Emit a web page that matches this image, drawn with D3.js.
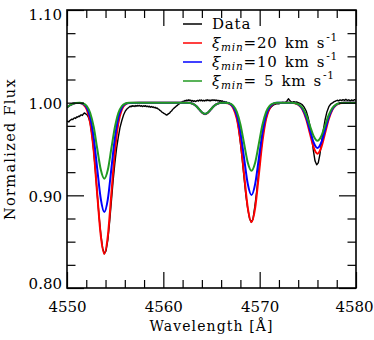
<!DOCTYPE html>
<html>
<head>
<meta charset="utf-8">
<script src="https://cdn.jsdelivr.net/npm/d3@7"></script>
<style>
  html, body { margin: 0; padding: 0; background: #fff; }
  svg { display: block; }
</style>
</head>
<body>
<svg id="chart" width="374" height="340"></svg>
<script>
// model grid (Angstrom) shared by the three synthetic spectra
const modelWave = [
  4550.0, 4550.3, 4550.6, 4550.9,
  4551.32, 4551.68, 4552.05, 4552.41, 4552.78, 4553.14, 4553.51, 4553.87, 4554.24, 4554.60, 4554.97, 4555.33, 4555.70, 4556.06, 4556.43,
  4557.5, 4559.0, 4560.5, 4562.0,
  4562.53, 4562.83, 4563.13, 4563.43, 4563.73, 4564.03, 4564.33, 4564.63, 4564.93, 4565.23, 4565.53, 4565.83, 4566.13,
  4566.49, 4566.87, 4567.25, 4567.63, 4568.01, 4568.39, 4568.77, 4569.15, 4569.53, 4569.91, 4570.29, 4570.67, 4571.05, 4571.43, 4571.81,
  4572.55,
  4573.27, 4573.66, 4574.05, 4574.44, 4574.83, 4575.22, 4575.61, 4576.00, 4576.39, 4576.78, 4577.17, 4577.56, 4577.95, 4578.34, 4578.73,
  4579.4, 4580.0
];
const fluxXi20 = [
  0.9948, 0.9972, 0.9988, 0.9997,
  0.9996, 0.9982, 0.9928, 0.9779, 0.9471, 0.9011, 0.8562, 0.837, 0.8562, 0.9011, 0.9471, 0.9779, 0.9928, 0.9982, 0.9996,
  1.0, 1.0, 1.0, 1.0,
  0.9999, 0.9995, 0.9984, 0.9961, 0.9927, 0.9892, 0.9876, 0.9892, 0.9927, 0.9961, 0.9984, 0.9995, 0.9999,
  0.9997, 0.9986, 0.9943, 0.9825, 0.9581, 0.9218, 0.8862, 0.871, 0.8862, 0.9218, 0.9581, 0.9825, 0.9943, 0.9986, 0.9997,
  1.0,
  0.9999, 0.9994, 0.9976, 0.9926, 0.9821, 0.9666, 0.9515, 0.945, 0.9515, 0.9666, 0.9821, 0.9926, 0.9976, 0.9994, 0.9999,
  1.0, 1.0
];
const fluxXi10 = [
  0.9948, 0.9972, 0.9988, 0.9997,
  0.9997, 0.9987, 0.9948, 0.9840, 0.9617, 0.9284, 0.8959, 0.882, 0.8959, 0.9284, 0.9617, 0.9840, 0.9948, 0.9987, 0.9997,
  1.0, 1.0, 1.0, 1.0,
  0.9999, 0.9995, 0.9984, 0.9961, 0.9927, 0.9893, 0.9878, 0.9893, 0.9927, 0.9961, 0.9984, 0.9995, 0.9999,
  0.9998, 0.9989, 0.9956, 0.9865, 0.9677, 0.9396, 0.9121, 0.9004, 0.9121, 0.9396, 0.9677, 0.9865, 0.9956, 0.9989, 0.9998,
  1.0,
  0.9999, 0.9995, 0.9978, 0.9934, 0.9841, 0.9703, 0.9568, 0.951, 0.9568, 0.9703, 0.9841, 0.9934, 0.9978, 0.9995, 0.9999,
  1.0, 1.0
];
const fluxXi5 = [
  0.9948, 0.9972, 0.9988, 0.9997,
  0.9998, 0.9991, 0.9964, 0.9889, 0.9734, 0.9503, 0.9276, 0.918, 0.9276, 0.9503, 0.9734, 0.9889, 0.9964, 0.9991, 0.9998,
  1.0, 1.0, 1.0, 1.0,
  0.9999, 0.9995, 0.9984, 0.9961, 0.9927, 0.9894, 0.988, 0.9894, 0.9927, 0.9961, 0.9984, 0.9995, 0.9999,
  0.9998, 0.9992, 0.9968, 0.9901, 0.9762, 0.9555, 0.9352, 0.9266, 0.9352, 0.9555, 0.9762, 0.9901, 0.9968, 0.9992, 0.9998,
  1.0,
  0.9999, 0.9995, 0.9982, 0.9945, 0.9867, 0.9751, 0.9638, 0.959, 0.9638, 0.9751, 0.9867, 0.9945, 0.9982, 0.9995, 0.9999,
  1.0, 1.0
];

// observed spectrum [wavelength, normalized flux]
const observed = [
  [4550.0,0.9795],[4550.1,0.9800],[4550.2,0.9792],[4550.3,0.9808],[4550.4,0.9815],[4550.5,0.9822],[4550.6,0.9818],
  [4550.7,0.9831],[4550.8,0.9836],[4550.9,0.9830],[4551.0,0.9847],[4551.1,0.9843],[4551.2,0.9855],[4551.3,0.9851],
  [4551.4,0.9864],[4551.5,0.9868],[4551.6,0.9862],[4551.7,0.9878],[4551.8,0.9889],[4551.9,0.9882],[4552.0,0.9875],
  [4552.1,0.9866],[4552.2,0.9848],[4552.3,0.9822],
  [4552.41,0.9779],[4552.6,0.965],[4552.78,0.9471],[4552.96,0.925],[4553.14,0.9011],[4553.33,0.877],[4553.51,0.858],
  [4553.7,0.843],[4553.87,0.837],[4554.05,0.840],[4554.24,0.852],[4554.42,0.871],[4554.60,0.893],[4554.78,0.915],
  [4554.97,0.935],[4555.15,0.951],[4555.33,0.963],[4555.5,0.973],[4555.70,0.981],[4555.88,0.987],[4556.06,0.991],
  [4556.25,0.9935],[4556.43,0.9950],
  [4556.55,0.9962],[4556.65,0.9955],[4556.75,0.9968],[4556.85,0.9960],[4556.95,0.9966],[4557.05,0.9958],[4557.15,0.9969],
  [4557.25,0.9962],[4557.35,0.9971],[4557.45,0.9964],[4557.55,0.9970],[4557.65,0.9961],[4557.75,0.9968],[4557.85,0.9958],
  [4557.95,0.9966],[4558.05,0.9960],[4558.15,0.9968],[4558.25,0.9957],[4558.35,0.9963],[4558.45,0.9955],[4558.55,0.9962],
  [4558.65,0.9951],[4558.75,0.9958],[4558.85,0.9950],[4558.95,0.9955],[4559.05,0.9946],[4559.15,0.9950],[4559.25,0.9940],
  [4559.35,0.9943],[4559.45,0.9932],[4559.55,0.9928],[4559.65,0.9916],[4559.75,0.9910],[4559.85,0.9898],[4559.95,0.9893],
  [4560.05,0.9884],[4560.15,0.9880],[4560.25,0.9872],[4560.35,0.9866],[4560.45,0.9874],[4560.55,0.9882],[4560.65,0.9888],
  [4560.75,0.9902],[4560.85,0.9910],[4560.95,0.9926],[4561.05,0.9934],[4561.15,0.9946],[4561.25,0.9952],[4561.35,0.9963],
  [4561.45,0.9970],[4561.55,0.9982],[4561.65,0.9986],[4561.75,0.9996],[4561.85,1.0004],[4561.95,1.0008],[4562.05,1.0016],
  [4562.15,1.0012],[4562.25,1.0024],[4562.35,1.0018],[4562.45,1.0028],[4562.55,1.0022],[4562.65,1.0031],[4562.75,1.0020],
  [4562.85,1.0027],[4562.95,1.0016],[4563.05,1.0024],[4563.15,1.0013],[4563.25,1.0021],[4563.35,1.0012],[4563.45,1.0019],
  [4563.55,1.0025],[4563.65,1.0017],[4563.75,1.0029],[4563.85,1.0021],[4563.95,1.0030],[4564.05,1.0019],[4564.15,1.0026],
  [4564.25,1.0018],[4564.35,1.0027],[4564.45,1.0021],[4564.55,1.0031],[4564.65,1.0022],[4564.75,1.0028],[4564.85,1.0019],
  [4564.95,1.0029],[4565.05,1.0023],[4565.15,1.0032],[4565.25,1.0024],[4565.35,1.0030],[4565.45,1.0021],[4565.55,1.0028],
  [4565.65,1.0019],[4565.75,1.0025],[4565.85,1.0016],[4565.95,1.0022],[4566.05,1.0013],[4566.15,1.0018],[4566.25,1.0008],
  [4566.35,1.0012],[4566.45,1.0004],[4566.55,1.0007],[4566.65,0.9998],
  [4566.75,1.0001],[4566.9,0.9993],[4567.05,0.9985],[4567.25,0.9955],[4567.45,0.991],[4567.63,0.984],[4567.82,0.972],
  [4568.01,0.956],[4568.2,0.938],[4568.39,0.918],[4568.58,0.899],[4568.77,0.885],[4568.95,0.875],[4569.12,0.871],
  [4569.3,0.874],[4569.5,0.888],[4569.7,0.905],[4569.91,0.926],[4570.1,0.945],[4570.29,0.962],[4570.48,0.975],
  [4570.67,0.984],[4570.86,0.990],[4571.05,0.9935],[4571.25,0.996],[4571.43,0.9975],
  [4571.6,0.9983],[4571.8,0.9990],[4572.0,0.9988],[4572.2,0.9997],[4572.4,1.0003],[4572.6,0.9998],[4572.8,1.0012],
  [4572.9,1.0030],[4573.0,1.0042],[4573.1,1.0025],[4573.25,1.0010],[4573.4,1.0004],[4573.55,1.0011],[4573.7,1.0005],
  [4573.84,1.0007],[4574.0,1.0001],[4574.2,0.9993],[4574.4,0.998],[4574.6,0.9955],[4574.83,0.991],[4575.03,0.984],
  [4575.22,0.975],[4575.4,0.963],[4575.58,0.948],[4575.75,0.937],[4575.92,0.933],[4576.08,0.935],[4576.25,0.944],
  [4576.42,0.957],[4576.6,0.970],[4576.78,0.981],[4576.98,0.990],[4577.2,0.996],[4577.4,0.9988],[4577.6,1.0000],
  [4577.75,1.0012],[4577.9,1.0018],[4578.05,1.0026],[4578.2,1.0019],[4578.35,1.0030],[4578.5,1.0022],[4578.65,1.0033],
  [4578.8,1.0025],[4578.95,1.0036],[4579.1,1.0024],[4579.25,1.0031],[4579.4,1.0020],[4579.55,1.0029],[4579.7,1.0023],
  [4579.85,1.0032],[4580.0,1.0026]
];

const xTicks = [4550, 4560, 4570, 4580];
const xMinorTicks = [4552, 4554, 4556, 4558, 4562, 4564, 4566, 4568, 4572, 4574, 4576, 4578];
const yTicks = [0.80, 0.90, 1.00, 1.10];
const yMinorTicks = [0.825, 0.85, 0.875, 0.925, 0.95, 0.975, 1.025, 1.05, 1.075];
const legendXi = ['20', '10', ' 5'];
const seriesColors = ['#000000', '#ff0000', '#0000ff', '#229a22'];

const width = 374, height = 340;
const margin = { top: 10, right: 18, bottom: 52, left: 67 };
const plotW = width - margin.left - margin.right;
const plotH = height - margin.top - margin.bottom;
const serif = '"DejaVu Serif", serif';

const svg = d3.select('#chart');

const x = d3.scaleLinear().domain([4550, 4580]).range([margin.left, margin.left + plotW]);
const y = d3.scaleLinear().domain([0.80, 1.10]).range([margin.top + plotH, margin.top]);

svg.append('clipPath').attr('id', 'clip')
  .append('rect')
  .attr('x', margin.left).attr('y', margin.top)
  .attr('width', plotW).attr('height', plotH);

const gLines = svg.append('g').attr('clip-path', 'url(#clip)');

// observed data first, models on top
gLines.append('path')
  .datum(observed)
  .attr('fill', 'none')
  .attr('stroke', seriesColors[0])
  .attr('stroke-width', 1.4)
  .attr('stroke-linejoin', 'round')
  .attr('d', d3.line().x(d => x(d[0])).y(d => y(d[1])));

const modelLine = d3.line()
  .x((d, i) => x(modelWave[i]))
  .y(d => y(d))
  .curve(d3.curveMonotoneX);

[fluxXi20, fluxXi10, fluxXi5].forEach((flux, k) => {
  gLines.append('path')
    .datum(flux)
    .attr('fill', 'none')
    .attr('stroke', seriesColors[k + 1])
    .attr('stroke-width', 2)
    .attr('stroke-linejoin', 'round')
    .attr('d', modelLine);
});

// axes, ticks pointing inward on all four sides
const styleAxis = g => {
  g.select('.domain').remove();
  g.selectAll('line').attr('stroke', '#000').attr('stroke-width', 1.2);
  g.selectAll('text').attr('font-family', serif).attr('font-size', 15).attr('fill', '#000');
};

const gBottom = svg.append('g').attr('transform', `translate(0,${margin.top + plotH})`);
gBottom.call(d3.axisBottom(x).tickValues(xTicks).tickSizeInner(-16).tickSizeOuter(0)
  .tickPadding(13).tickFormat(d3.format('d'))).call(styleAxis);
gBottom.append('g').call(d3.axisBottom(x).tickValues(xMinorTicks).tickSizeInner(-8).tickSizeOuter(0)
  .tickFormat('')).call(styleAxis);
gBottom.selectAll('.tick text').filter(d => d === 4580).attr('x', -2);

const gTop = svg.append('g').attr('transform', `translate(0,${margin.top})`);
gTop.call(d3.axisTop(x).tickValues(xTicks).tickSizeInner(-16).tickSizeOuter(0).tickFormat('')).call(styleAxis);
gTop.append('g').call(d3.axisTop(x).tickValues(xMinorTicks).tickSizeInner(-8).tickSizeOuter(0)
  .tickFormat('')).call(styleAxis);

const gLeft = svg.append('g').attr('transform', `translate(${margin.left},0)`);
gLeft.call(d3.axisLeft(y).tickValues(yTicks).tickSizeInner(-17).tickSizeOuter(0)
  .tickPadding(5).tickFormat(d3.format('.2f'))).call(styleAxis);
gLeft.append('g').call(d3.axisLeft(y).tickValues(yMinorTicks).tickSizeInner(-8.5).tickSizeOuter(0)
  .tickFormat('')).call(styleAxis);
gLeft.selectAll('.tick text')
  .attr('dy', d => d === 1.10 ? '0.65em' : d === 0.80 ? '0.02em' : '0.38em');

const gRight = svg.append('g').attr('transform', `translate(${margin.left + plotW},0)`);
gRight.call(d3.axisRight(y).tickValues(yTicks).tickSizeInner(-17).tickSizeOuter(0).tickFormat('')).call(styleAxis);
gRight.append('g').call(d3.axisRight(y).tickValues(yMinorTicks).tickSizeInner(-8.5).tickSizeOuter(0)
  .tickFormat('')).call(styleAxis);

svg.append('rect')
  .attr('x', margin.left).attr('y', margin.top)
  .attr('width', plotW).attr('height', plotH)
  .attr('fill', 'none').attr('stroke', '#000').attr('stroke-width', 1.6);

// axis titles
svg.append('text')
  .attr('x', margin.left + plotW / 2)
  .attr('y', 331)
  .attr('text-anchor', 'middle')
  .attr('font-family', serif).attr('font-size', 14).attr('letter-spacing', 1.1)
  .text('Wavelength [Å]');

svg.append('text')
  .attr('transform', `translate(15,${margin.top + plotH / 2}) rotate(-90)`)
  .attr('text-anchor', 'middle')
  .attr('font-family', serif).attr('font-size', 14.5).attr('letter-spacing', 1.3)
  .text('Normalized Flux');

// legend
const gLegend = svg.append('g').attr('font-family', serif).attr('font-size', 15)
  .attr('letter-spacing', 0.8).attr('word-spacing', 1.5);
const rows = [null].concat(legendXi);
rows.forEach((xi, i) => {
  const ly = 24 + i * 19;
  gLegend.append('line')
    .attr('x1', 183).attr('x2', 202).attr('y1', ly).attr('y2', ly)
    .attr('stroke', seriesColors[i]).attr('stroke-width', 1.5);
  const t = gLegend.append('text').attr('x', 212).attr('y', ly + 5)
    .attr('xml:space', 'preserve').style('white-space', 'pre');
  if (xi === null) {
    t.text('Data');
  } else {
    t.append('tspan').attr('font-style', 'italic').text('ξ');
    t.append('tspan').attr('font-style', 'italic').attr('font-size', 10.5).attr('dy', 3).text('min');
    t.append('tspan').attr('dy', -3).text('=' + xi + ' km s');
    t.append('tspan').attr('font-size', 10.5).attr('dx', 1).attr('dy', -7).text('-1');
  }
});
</script>
</body>
</html>
